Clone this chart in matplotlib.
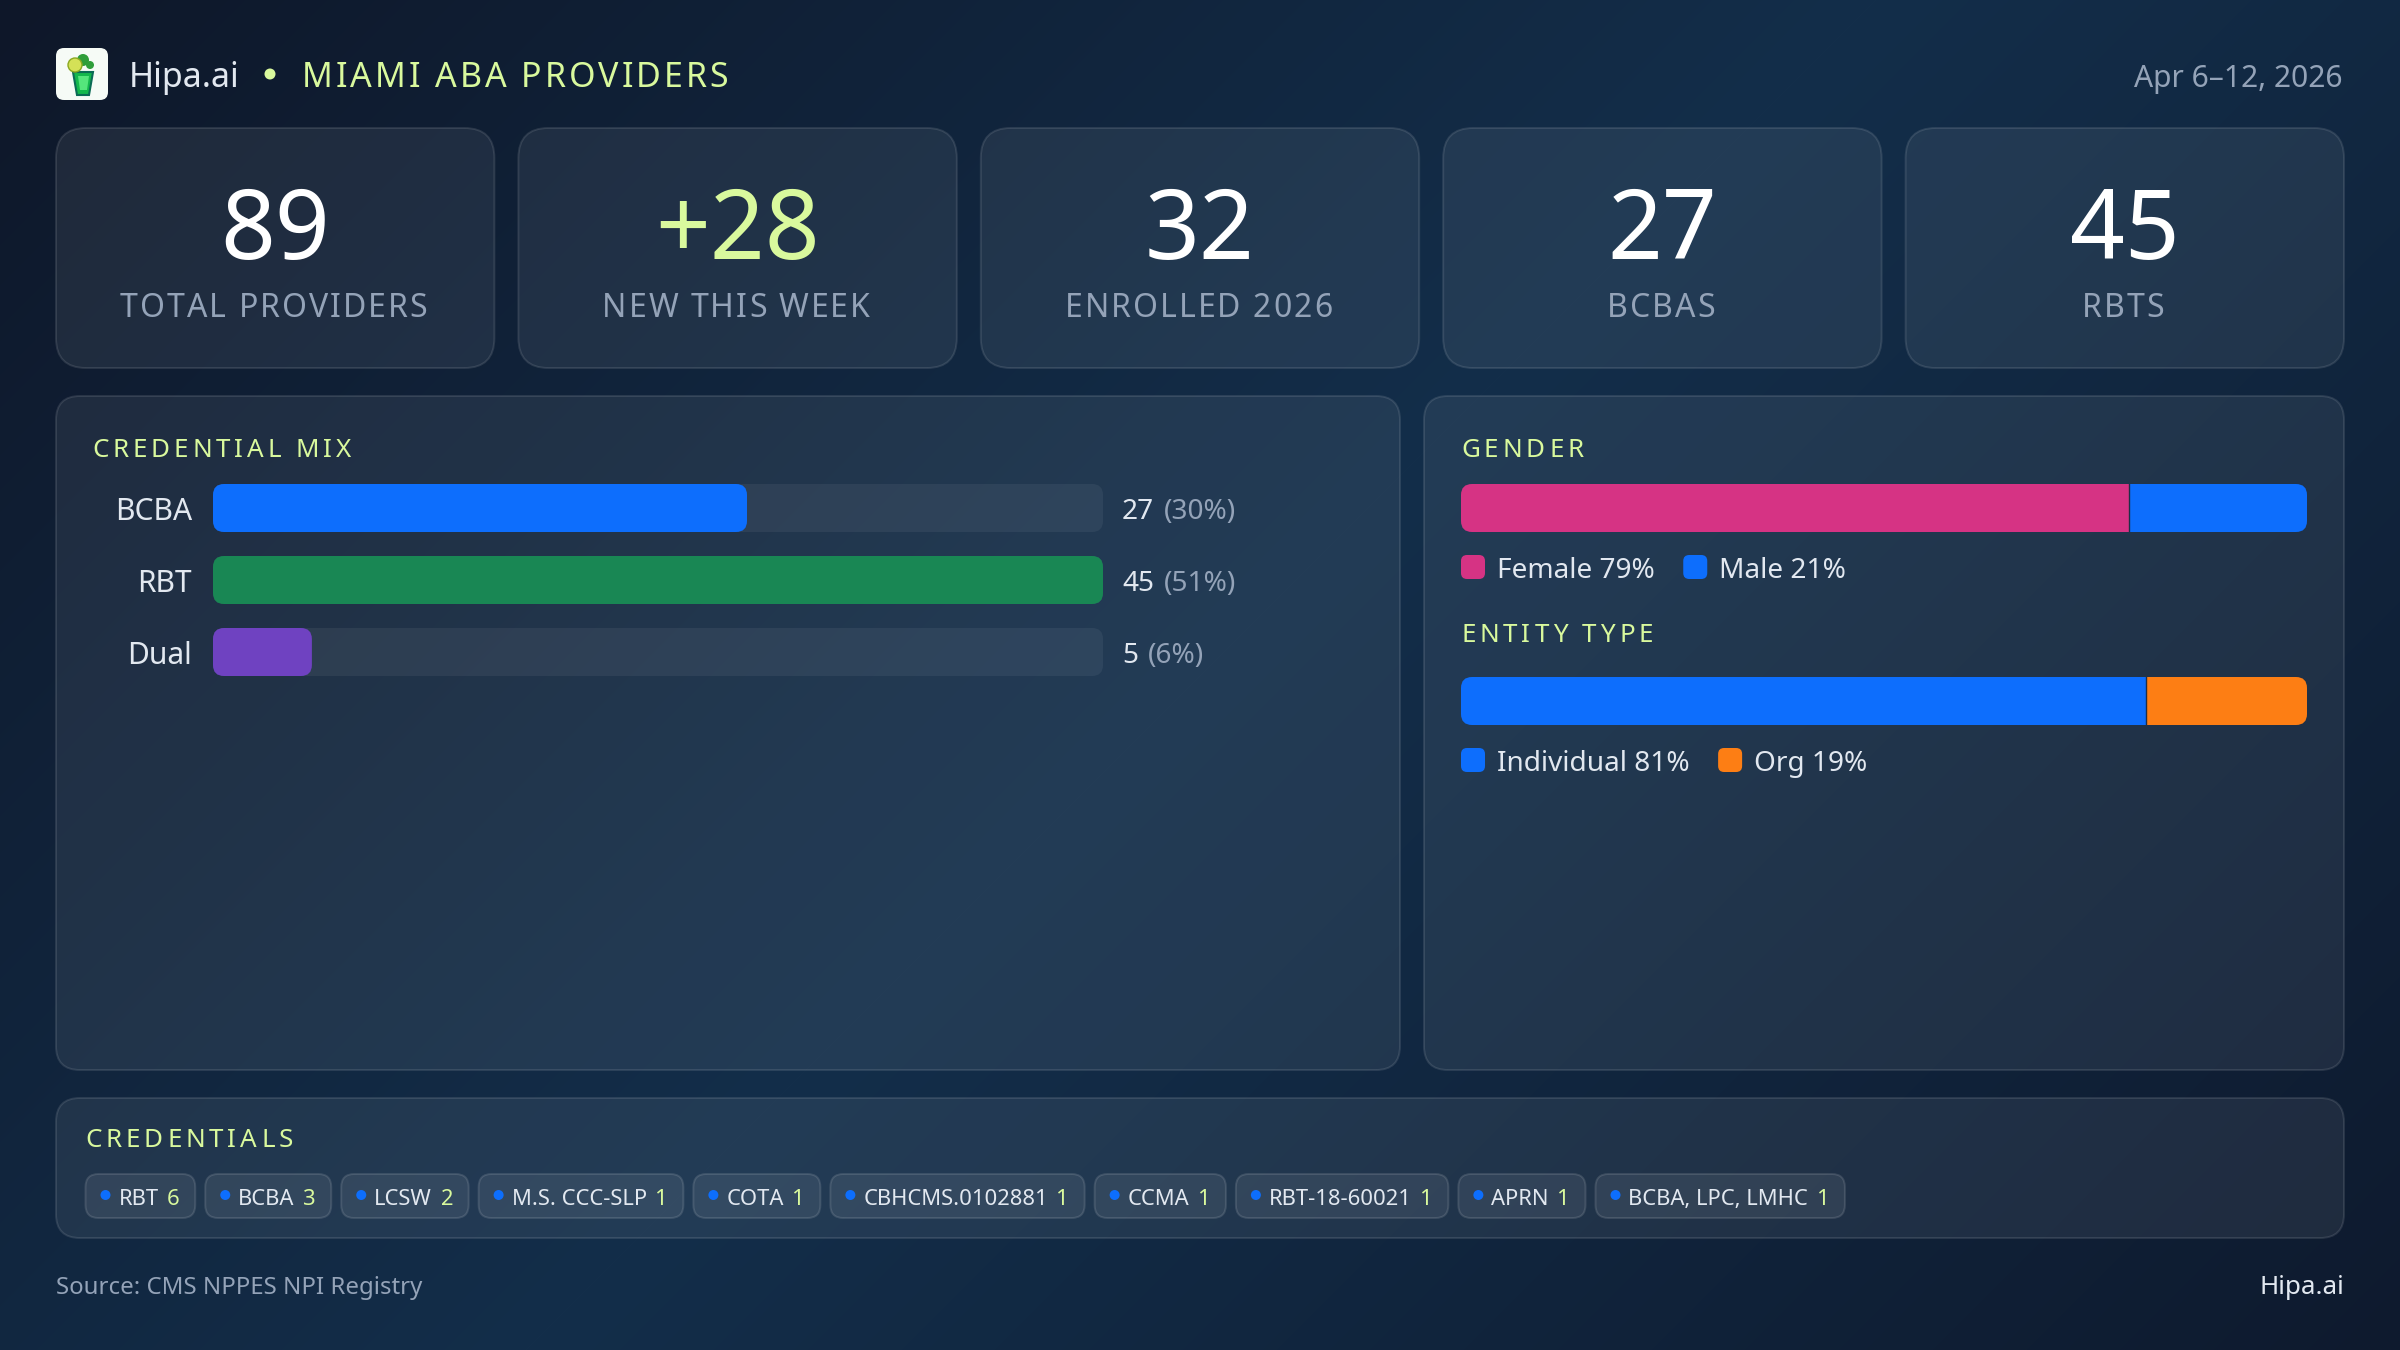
import matplotlib
matplotlib.use("Agg")
import matplotlib.pyplot as plt
import numpy as np
from matplotlib.colors import to_rgb
from matplotlib.patches import Circle, FancyBboxPatch, Polygon
from matplotlib.text import Text
from matplotlib.transforms import Affine2D, IdentityTransform

plt.rcParams["font.family"] = ["Noto Sans", "DejaVu Sans"]

W, H = 2400, 1350
PT = 0.72  # px -> pt at dpi 100

ACCENT = "#d9f99d"
TEXT = "#e2e8f0"
MUTED = "#94a3b8"
BLUE = "#0d6efd"
GREEN = "#198754"
PURPLE = "#6f42c1"
PINK = "#d63384"
ORANGE = "#fd7e14"

# data
stat_values = ["89", "+28", "32", "27", "45"]
stat_labels = ["TOTAL PROVIDERS", "NEW THIS WEEK", "ENROLLED 2026", "BCBAS", "RBTS"]
stat_colors = ["white", ACCENT, "white", "white", "white"]

mix_names = ["BCBA", "RBT", "Dual"]
mix_counts = [27, 45, 5]
mix_shares = [30, 51, 6]
mix_colors = [BLUE, GREEN, PURPLE]

gender_names = ["Female", "Male"]
gender_shares = [79, 21]
gender_colors = [PINK, BLUE]

entity_names = ["Individual", "Org"]
entity_shares = [81, 19]
entity_colors = [BLUE, ORANGE]

chip_names = ["RBT", "BCBA", "LCSW", "M.S. CCC-SLP", "COTA", "CBHCMS.0102881",
              "CCMA", "RBT-18-60021", "APRN", "BCBA, LPC, LMHC"]
chip_counts = [6, 3, 2, 1, 1, 1, 1, 1, 1, 1]


class SpacedText(Text):
    """Text with css style letter-spacing, drawn glyph by glyph."""
    def __init__(self, x, y, s, spacing=0, **kw):
        super().__init__(x, y, s, **kw)
        self.spacing = spacing

    def advance(self, renderer, s):
        fp = self.get_fontproperties()
        w = lambda t: renderer.get_text_width_height_descent(t, fp, False)[0]
        return w(s + "|") - w("|")

    def draw(self, renderer):
        s = self.get_text()
        x0, y0 = self.get_transform().transform(self.get_position())
        if self.get_ha() == "center":
            x0 -= (self.advance(renderer, s) + self.spacing * (len(s) - 1)) / 2
        for i, ch in enumerate(s):
            if ch == " ":
                continue
            g = Text(x0 + self.advance(renderer, s[:i]) + i * self.spacing, y0, ch,
                     color=self.get_color(), fontproperties=self.get_fontproperties(),
                     ha="left", va="baseline", transform=IdentityTransform())
            g.set_figure(self.get_figure())
            g.draw(renderer)


fig = plt.figure(figsize=(24, 13.5), dpi=100)
page = fig.add_axes([0, 0, 1, 1])
page.axis("off")

# page gradient, 135deg
yy, xx = np.mgrid[0:H, 0:W]
t = (xx + yy) / (W + H)
stops = [0, 0.5, 1]
cols = np.array([to_rgb("#0e1729"), to_rgb("#132e4a"), to_rgb("#0e1a2e")])
grad = np.dstack([np.interp(t, stops, cols[:, c]) for c in range(3)])
page.imshow(grad, extent=(0, W, H, 0), aspect="auto", interpolation="bilinear", zorder=0)
page.set_xlim(0, W)
page.set_ylim(H, 0)


def label(x, y, s, px, color=TEXT, ha="left", spacing=None):
    if spacing is None:
        return page.text(x, y, s, fontsize=px * PT, color=color, ha=ha, va="baseline", zorder=5)
    t = SpacedText(x, y, s, spacing=spacing, fontsize=px * PT, color=color, ha=ha,
                   va="baseline", zorder=5, transform=page.transData)
    page.add_artist(t)
    return t


def card(x0, y0, x1, y1, radius, fill=0.07, edge=0.11, z=1):
    page.add_patch(FancyBboxPatch((x0, y0), x1 - x0, y1 - y0,
                                  boxstyle=f"round,pad=0,rounding_size={radius}",
                                  facecolor=(1, 1, 1, fill), edgecolor=(1, 1, 1, edge),
                                  linewidth=1.4, zorder=z))


def text_width(s, px):
    r = fig.canvas.get_renderer()
    t = page.text(0, 0, s + "|", fontsize=px * PT)
    bar = page.text(0, 0, "|", fontsize=px * PT)
    w = t.get_window_extent(r).width - bar.get_window_extent(r).width
    t.remove()
    bar.remove()
    return w


def round_clip(artists, extent, radius=11):
    """overflow: hidden on a rounded box, in display pixels"""
    clip = FancyBboxPatch((extent.x0, extent.y0), extent.width, extent.height,
                          boxstyle=f"round,pad=0,rounding_size={radius}",
                          transform=IdentityTransform())
    for a in artists:
        a.set_clip_path(clip)


def bar_axes(x0, y0, x1, y1):
    ax = fig.add_axes([x0 / W, 1 - y1 / H, (x1 - x0) / W, (y1 - y0) / H], zorder=3)
    ax.patch.set_alpha(0)
    for s in ax.spines.values():
        s.set_visible(False)
    ax.set_xticks([])
    ax.set_yticks([])
    return ax


# header, logo first
page.add_patch(FancyBboxPatch((56, 48), 52, 52, boxstyle="round,pad=0,rounding_size=8",
                              facecolor="#f6fbf6", edgecolor="none", zorder=2))
page.add_patch(Circle((83, 60), 6, facecolor="#2f9e3a", zorder=3))
page.add_patch(Circle((90, 65), 4, facecolor="#2f9e3a", zorder=3))
page.add_patch(Polygon([(73, 72), (93, 72), (89, 95), (77, 95)], facecolor="#14b84c",
                       edgecolor="#0b6b55", linewidth=1.5, zorder=3))
page.add_patch(Polygon([(78, 76), (89, 76), (87, 90), (80, 90)], facecolor="#55e67c", zorder=3))
page.add_patch(Circle((75, 65), 7, facecolor="#d4e157", edgecolor="#8aa820", linewidth=1, zorder=4))

label(129, 87, "Hipa.ai", 34)
page.add_patch(Circle((270, 74), 5.5, facecolor=ACCENT, edgecolor="none", zorder=5))
label(302, 87, "MIAMI ABA PROVIDERS", 34, color=ACCENT, spacing=2.95)
label(2343, 87, "Apr 6\u201312, 2026", 30, color=MUTED, ha="right")

# stat cards
card_w = (2288 - 4 * 24) / 5
for i, (val, lab, col) in enumerate(zip(stat_values, stat_labels, stat_colors)):
    x0 = 56 + i * (card_w + 24)
    card(x0, 128, x0 + card_w, 368, 30)
    label(x0 + card_w / 2, 259, val, 96, color=col, ha="center")
    label(x0 + card_w / 2 - 1.5, 317, lab, 32, color=MUTED, ha="center", spacing=2.0)

# panels
card(56, 396, 1400, 1070, 24)
card(1424, 396, 2344, 1070, 24)
card(56, 1098, 2344, 1238, 24)

# credential mix
label(92, 457, "CREDENTIAL MIX", 26, color=ACCENT, spacing=3.95)
ax = bar_axes(213, 484, 1103, 676)
ax.set_xlim(0, max(mix_counts))
ax.set_ylim(len(mix_names) - 1 + 1 / 3, -1 / 3)
ypos = np.arange(len(mix_names))
tracks = ax.barh(ypos, [max(mix_counts)] * len(mix_names), height=2 / 3, color="white", alpha=0.06)
fills = ax.barh(ypos, mix_counts, height=2 / 3, color=mix_colors)
for tr, fl in zip(tracks, fills):
    round_clip([tr], tr.get_window_extent())
    round_clip([fl], fl.get_window_extent())
ax.set_yticks(ypos, mix_names)
ax.tick_params(axis="y", length=0, pad=15, labelsize=30 * PT, labelcolor=TEXT)
for lab in ax.get_yticklabels():
    lab.set_transform(lab.get_transform() + Affine2D().translate(0, -1))
for i, (n, s) in enumerate(zip(mix_counts, mix_shares)):
    ax.annotate(str(n), xy=(max(mix_counts), i), xytext=(19, -11), textcoords="offset pixels",
                fontsize=28 * PT, color=TEXT, va="baseline", annotation_clip=False)
    ax.annotate(f"({s}%)", xy=(max(mix_counts), i), xytext=(19 + text_width(str(n), 28) + 10, -11),
                textcoords="offset pixels", fontsize=28 * PT, color=MUTED, va="baseline",
                annotation_clip=False)


# stacked share bars
def share_bar(y0, title, title_y, names, shares, colors, legend_y):
    label(1461, title_y, title, 26, color=ACCENT, spacing=4.0)
    ax = bar_axes(1461, y0, 2307, y0 + 48)
    ax.set_xlim(0, sum(shares))
    ax.set_ylim(-0.5, 0.5)
    bars = ax.barh(0, shares, left=np.cumsum([0] + shares[:-1]), height=1, color=colors)
    round_clip(list(bars), ax.get_window_extent())
    ax.axvline(shares[0], color="#1f2f47", linewidth=1)
    x = 1461
    for name, share, col in zip(names, shares, colors):
        page.add_patch(FancyBboxPatch((x, legend_y - 23), 24, 24,
                                      boxstyle="round,pad=0,rounding_size=6",
                                      facecolor=col, edgecolor="none", zorder=4))
        s = f"{name} {share}%"
        label(x + 36, legend_y, s, 28)
        x += 36 + text_width(s, 28) + 28.5


share_bar(484, "GENDER", 457, gender_names, gender_shares, gender_colors, 578)
share_bar(677, "ENTITY TYPE", 642, entity_names, entity_shares, entity_colors, 771)

# credentials chips
label(85, 1147, "CREDENTIALS", 26, color=ACCENT, spacing=4.0)
x = 85.5
for name, count in zip(chip_names, chip_counts):
    name_w = text_width(name, 22)
    count_w = text_width(str(count), 22)
    chip_w = 33 + name_w + 8.5 + count_w + 15.5
    card(x, 1174, x + chip_w, 1218, 13, fill=0.08, edge=0.12, z=2)
    page.add_patch(Circle((x + 20, 1195), 5, facecolor=BLUE, edgecolor="none", zorder=4))
    label(x + 33, 1205, name, 22)
    label(x + 33 + name_w + 8.5, 1205, str(count), 22, color=ACCENT)
    x += chip_w + 10

# footer
label(56, 1294, "Source: CMS NPPES NPI Registry", 24, color=MUTED)
label(2344, 1294, "Hipa.ai", 26, ha="right")

fig.savefig("out.png", dpi=100)
